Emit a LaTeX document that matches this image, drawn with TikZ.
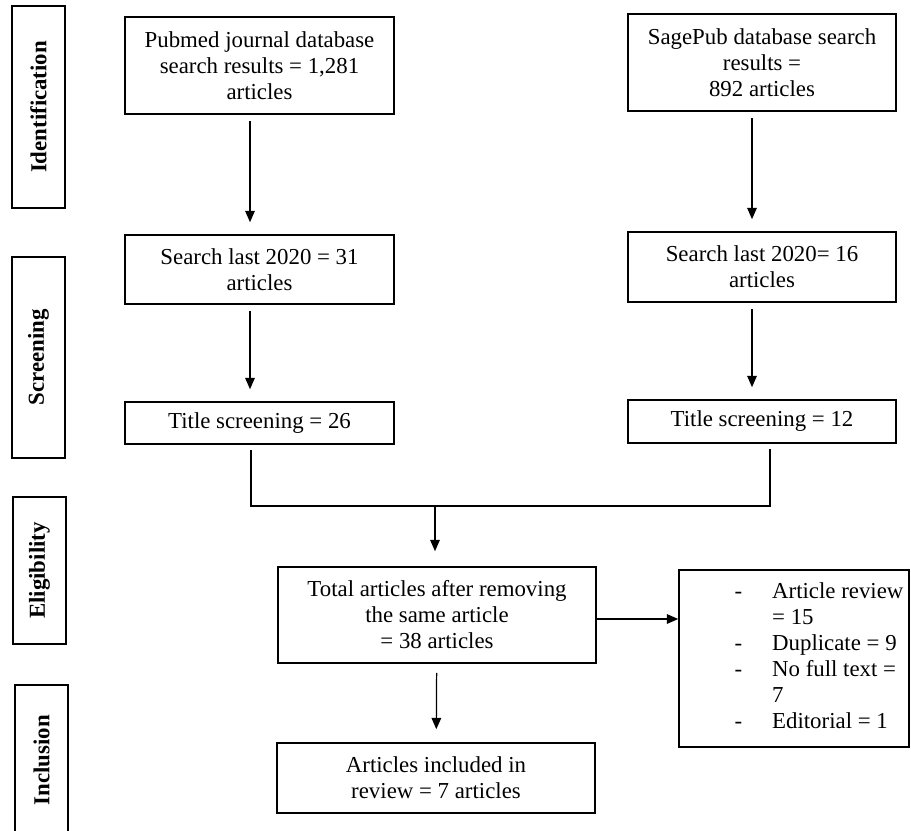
\documentclass[tikz,border=0pt]{standalone}
\usepackage{fontspec}
\setmainfont{Liberation Serif}
\usetikzlibrary{arrows.meta,positioning,calc}

\begin{document}
\begin{tikzpicture}[
    every node/.style={font=\fontsize{13}{14.8}\selectfont},
    stage/.style={draw,line width=0.9pt,rotate=90,minimum height=1.06cm,inner sep=0pt,font=\fontsize{13}{14.8}\selectfont\bfseries},
    box/.style={draw,line width=0.9pt,minimum width=5.38cm,align=center,inner sep=2pt},
    link/.style={-{Triangle[length=6.5pt,width=5.5pt]},line width=0.7pt,shorten <=0.12cm,shorten >=0.24cm},
    joint/.style={line width=0.7pt}
]
\useasboundingbox (0,0) rectangle (18.22,-16.6);

% Stages on the left
\node[stage,minimum width=4.04cm] (idn) at (0.77,-2.14)  {Identification};
\node[stage,minimum width=4.02cm] (scr) at (0.77,-7.15)  {Screening};
\node[stage,minimum width=2.94cm] (elg) at (0.79,-11.41) {Eligibility};
\node[stage,minimum width=3.00cm] (inc) at (0.83,-15.20) {Inclusion};

% Pubmed column
\node[box,minimum height=1.94cm] (pub)  at (5.19,-1.31) {Pubmed journal database\\search results = 1,281\\articles};
\node[box,minimum height=1.38cm] (pubS) at (5.19,-5.39) {Search last 2020 = 31\\articles};
\node[box,minimum height=0.84cm] (pubT) at (5.19,-8.46) {Title screening = 26};

% SagePub column
\node[box,minimum width=5.36cm,minimum height=1.94cm] (sage)  at (15.24,-1.25) {SagePub database search\\results =\\892 articles};
\node[box,minimum width=5.36cm,minimum height=1.40cm] (sageS) at (15.24,-5.34) {Search last 2020= 16\\articles};
\node[box,minimum width=5.36cm,minimum height=0.86cm] (sageT) at (15.24,-8.43) {Title screening = 12};

% Merged results
\node[box,minimum width=6.36cm,minimum height=1.92cm] (total) at (8.74,-12.30) {Total articles after removing\\the same article\\= 38 articles};
\node[box,minimum width=6.36cm,minimum height=1.40cm] (incl)  at (8.72,-15.56) {Articles included in\\review = 7 articles};
\node[box,minimum width=4.60cm,minimum height=3.54cm,align=left] (excl) at (15.88,-13.17)
  {\begin{tabular}{@{\hspace{1.0cm}}l@{\hspace{0.6cm}}l@{}}
   - & Article review\\
     & = 15\\
   - & Duplicate = 9\\
   - & No full text =\\
     & 7\\
   - & Editorial = 1
   \end{tabular}};

\coordinate (join) at (8.70,-10.12);

\draw[link] ([xshift=-0.19cm]pub.south)   -- ([xshift=-0.19cm]pubS.north);
\draw[link] ([xshift=-0.19cm]pubS.south)  -- ([xshift=-0.19cm]pubT.north);
\draw[link] ([xshift=-0.20cm]sage.south)  -- ([xshift=-0.20cm]sageS.north);
\draw[link] ([xshift=-0.20cm]sageS.south) -- ([xshift=-0.20cm]sageT.north);

% Join both columns
\draw[joint] ([xshift=-0.17cm,yshift=-0.1cm]pubT.south) |- (join);
\draw[joint] ([xshift=0.16cm,yshift=-0.1cm]sageT.south) |- (join);
\draw[link,shorten <=0pt,shorten >=0.3cm] (join) -- (join |- total.north);

\draw[link,shorten <=0.18cm,shorten >=0.26cm] (total) -- (incl);
\draw[link,shorten <=0pt,shorten >=0pt] ([yshift=-0.08cm]total.east) -- ([yshift=-0.08cm]total.east -| excl.west);
\end{tikzpicture}
\end{document}
